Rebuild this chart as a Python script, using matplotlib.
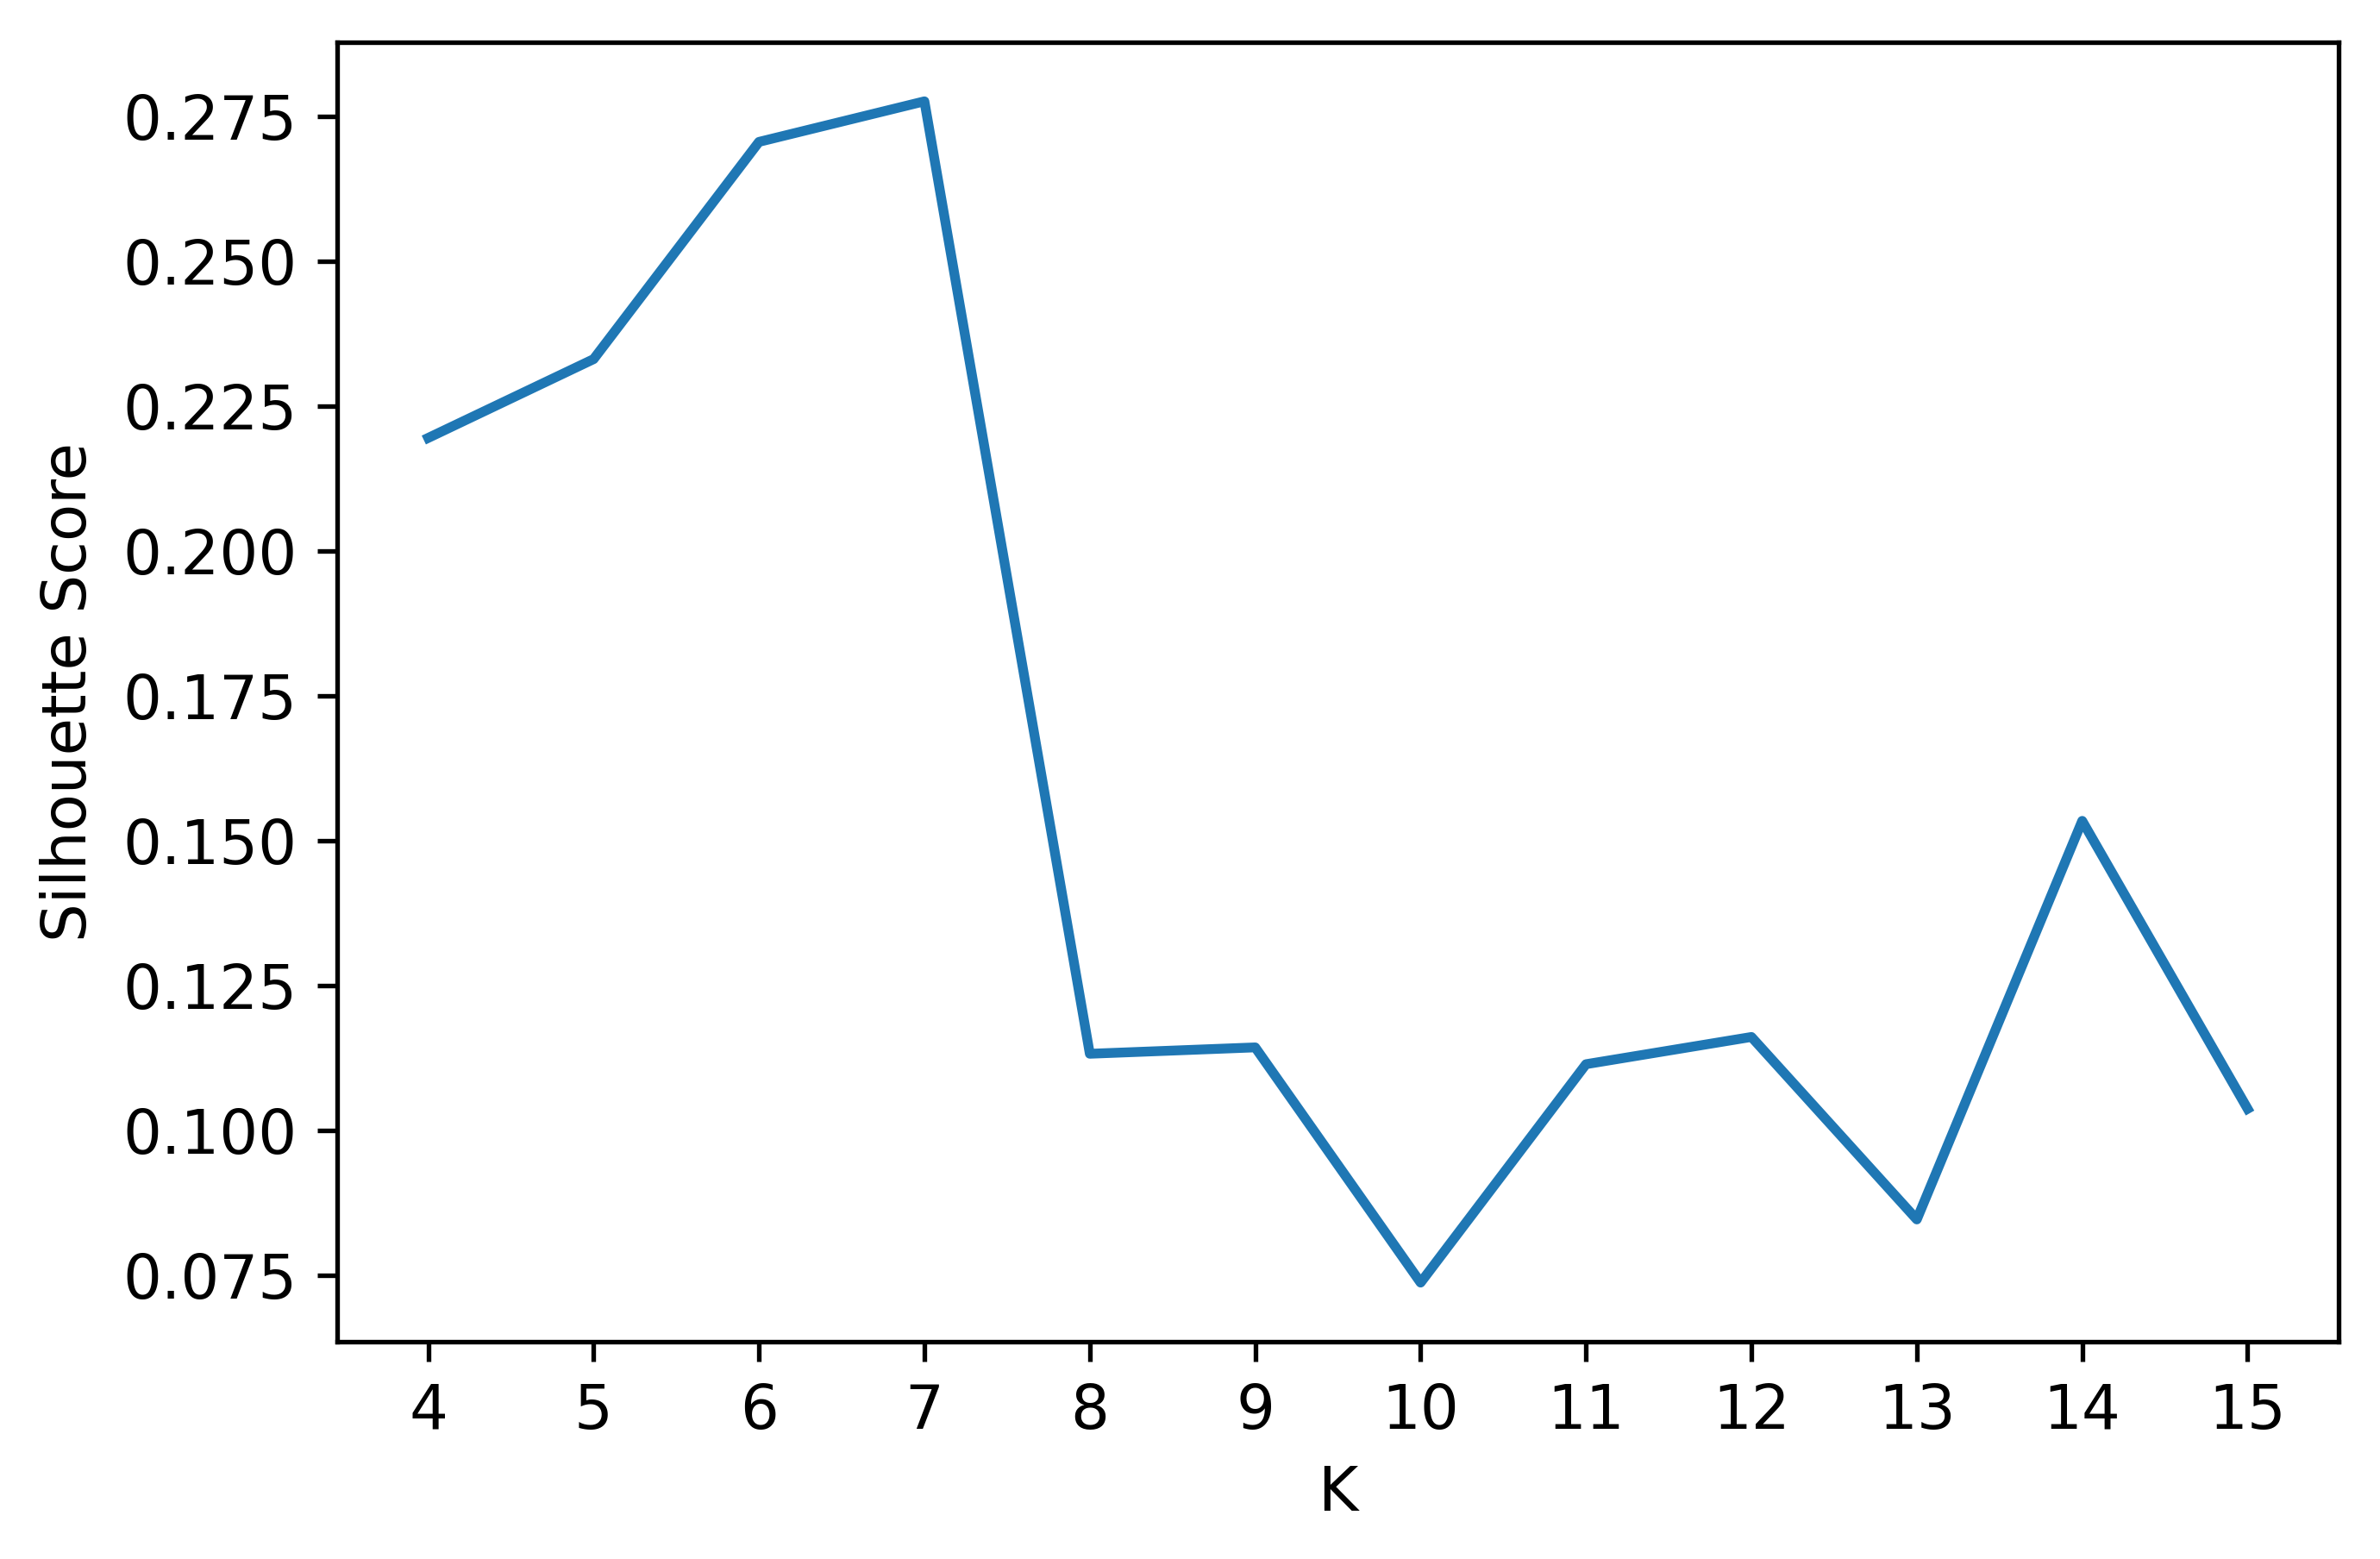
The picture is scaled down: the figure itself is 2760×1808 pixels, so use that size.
import matplotlib
matplotlib.use("Agg")
import matplotlib.pyplot as plt

# silhouette score for each K
k_values = [4, 5, 6, 7, 8, 9, 10, 11, 12, 13, 14, 15]
scores = [0.2195, 0.2331, 0.2706, 0.2776, 0.1132, 0.1143,
          0.0737, 0.1114, 0.1161, 0.0846, 0.1534, 0.1037]

plt.rcParams['font.size'] = 10.6

fig_dpi = 480
fig = plt.figure(figsize=(2760 / fig_dpi, 1808 / fig_dpi), dpi=fig_dpi)
ax = fig.add_axes([0.1417, 0.1394, 0.9826 - 0.1417, 0.9729 - 0.1394])

ax.plot(k_values, scores, linewidth=1.7)

ax.set_xticks(k_values)
ax.set_xlabel('K')
ax.set_ylabel('Silhouette Score')

fig.savefig('out.png', dpi=fig_dpi)
